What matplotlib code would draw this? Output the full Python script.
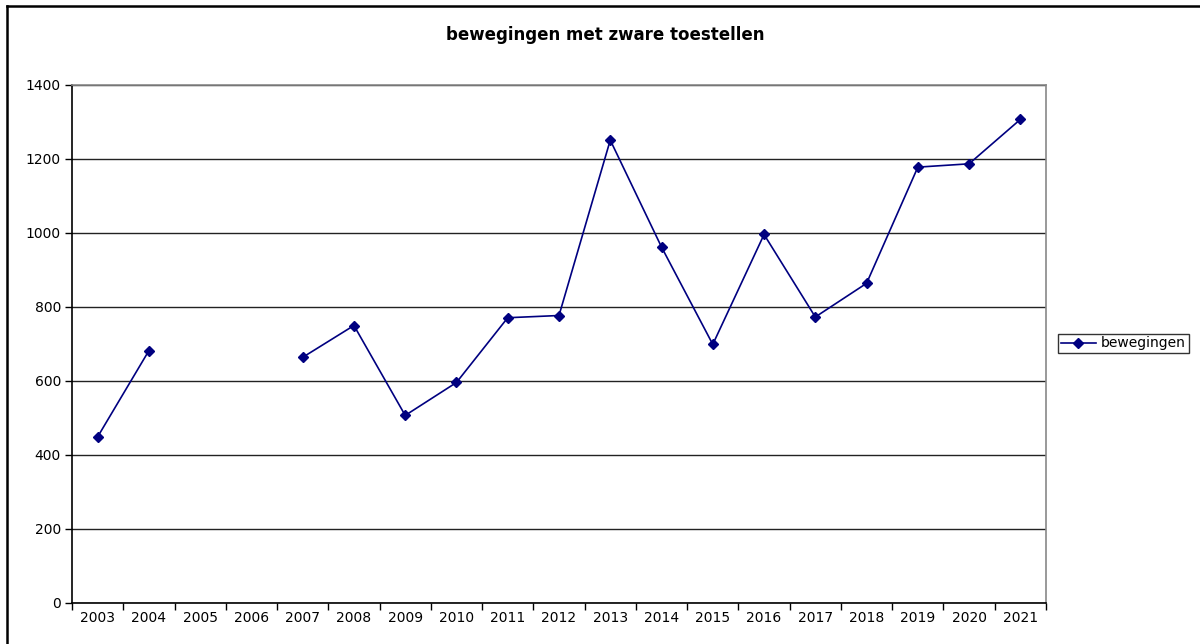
import numpy as np
import matplotlib
matplotlib.use("Agg")
import matplotlib.pyplot as plt
from matplotlib.lines import Line2D

plt.rcParams['font.family'] = ['DejaVu Sans']

# data (2005 and 2006 have no value)
years = ['2003', '2004', '2005', '2006', '2007', '2008', '2009', '2010', '2011', '2012',
         '2013', '2014', '2015', '2016', '2017', '2018', '2019', '2020', '2021']
bewegingen = [449, 682, np.nan, np.nan, 664, 750, 507, 596, 771, 777,
              1251, 962, 699, 996, 773, 864, 1178, 1187, 1307]
y_ticks = [0, 200, 400, 600, 800, 1000, 1200, 1400]

fig = plt.figure(figsize=(12, 6.44), dpi=100)
ax = fig.add_axes([72 / 1200, 41 / 644, (1046 - 72) / 1200, (603 - 85) / 644])

x = np.arange(len(years))
ax.plot(x, bewegingen, color='#000080', lw=1.2, marker='D', markersize=5,
        label='bewegingen', zorder=3)

# category axis: ticks between categories, labels in the middle
ax.set_xlim(-0.5, len(years) - 0.5)
ax.set_xticks(np.arange(-0.5, len(years)))
ax.set_xticklabels([])
ax.set_xticks(x, minor=True)
ax.set_xticklabels(years, minor=True, fontsize=10)
ax.tick_params(axis='x', which='major', length=5, width=1, direction='out')
ax.tick_params(axis='x', which='minor', length=0, pad=6)

ax.set_ylim(0, 1400)
ax.set_yticks(y_ticks)
ax.set_yticklabels([str(v) for v in y_ticks], fontsize=10)
ax.tick_params(axis='y', length=5, width=1, direction='out', pad=3)
ax.yaxis.grid(True, color='#222222', lw=1)
ax.set_axisbelow(True)

ax.spines['left'].set_color('black')
ax.spines['bottom'].set_color('black')
ax.spines['top'].set_color('#888888')
ax.spines['right'].set_color('#888888')
for s in ax.spines.values():
    s.set_linewidth(1.2)

fig.text(605 / 1200, 1 - 35 / 644, 'bewegingen met zware toestellen',
         ha='center', va='center', fontsize=12, fontweight='bold')

leg = fig.legend(loc='center left', bbox_to_anchor=(1058 / 1200, 1 - 343.5 / 644),
                 fontsize=10, frameon=True, fancybox=False, edgecolor='black',
                 borderpad=0.2, handlelength=2.5, handletextpad=0.4, borderaxespad=0)
leg.get_frame().set_linewidth(1)

# outer chart border (only top and left visible in the crop)
fig.add_artist(Line2D([7 / 1200, 7 / 1200], [0, 1 - 6 / 644], color='black', lw=1.8,
                      transform=fig.transFigure))
fig.add_artist(Line2D([7 / 1200, 1], [1 - 6 / 644, 1 - 6 / 644], color='black', lw=1.8,
                      transform=fig.transFigure))

fig.savefig('out.png', dpi=100)
